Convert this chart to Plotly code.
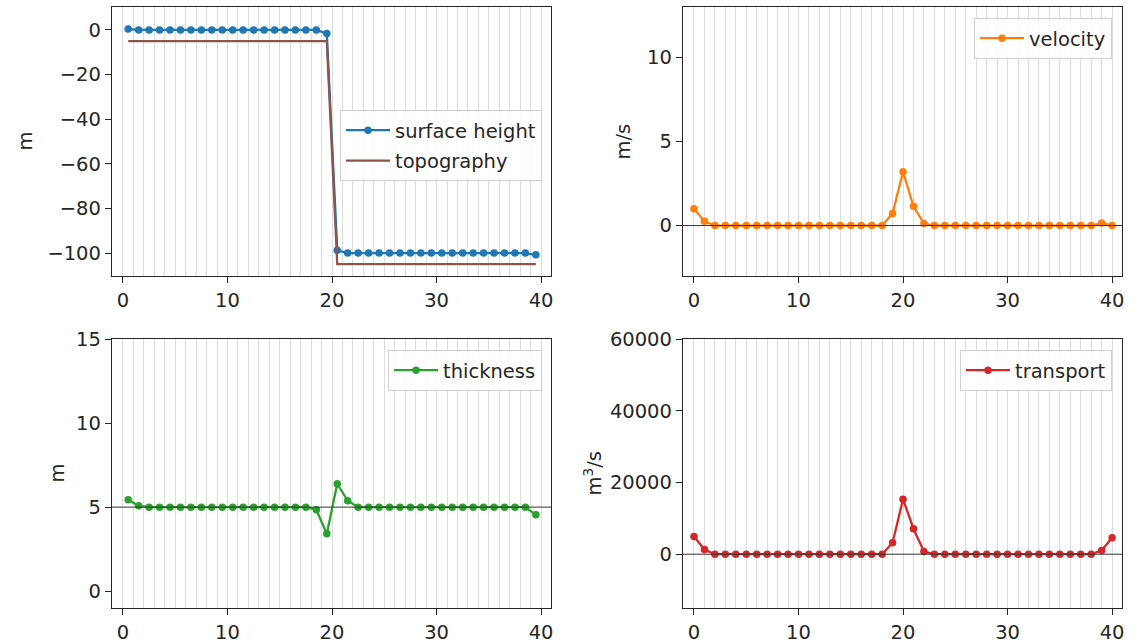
import plotly.graph_objects as go

W, H = 1147, 641

# ---- data ----
x_centers = [i + 0.5 for i in range(40)]
x_edges = list(range(41))

surface_height = [0.4] + [0.0] * 18 + [-1.6] + [-98.8] + [-100.0] * 18 + [-100.8]
topography = [-5.0] * 20 + [-105.0] * 20

velocity = [1.0, 0.25] + [0.0] * 17 + [0.72, 3.2, 1.15, 0.12] + [0.0] * 16 + [0.15, 0.0]

thickness = [5.44, 5.08] + [5.0] * 16 + [4.84, 3.41, 6.39, 5.38] + [5.0] * 17 + [4.54]

transport = [4950, 1300] + [0] * 17 + [3180, 15330, 7100, 750] + [0] * 16 + [1030, 4580]

# ---- layout helpers ----
def xd(a, b):
    return [a / W, b / W]

def yd(top, bot):
    return [1 - bot / H, 1 - top / H]

XD1 = xd(112, 551)
XD2 = xd(683, 1122)
YD1 = yd(7, 276)
YD2 = yd(339, 608)

C_BLUE = "#1f77b4"
C_BROWN = "#8c564b"
C_GREEN = "#2ca02c"
C_RED = "#d62728"
C_ORANGE = "#ff7f0e"
AX = "#262626"
GRID = "#dcdcdc"
FONT = "DejaVu Sans"
FS = 19.5

fig = go.Figure()

def line_trace(x, y, name, color, xa, ya, legend, markers=True):
    return go.Scatter(
        x=x, y=y, name=name, xaxis=xa, yaxis=ya, legend=legend,
        mode="lines+markers" if markers else "lines",
        line=dict(color=color, width=2.3),
        marker=dict(color=color, size=7.5),
        legendgroup=name,
    )

fig.add_trace(line_trace(x_centers, surface_height, "surface height", C_BLUE, "x", "y", "legend"))
fig.add_trace(line_trace(x_centers, topography, "topography", C_BROWN, "x", "y", "legend", markers=False))
fig.add_trace(line_trace(x_edges, velocity, "velocity", C_ORANGE, "x2", "y2", "legend2"))
fig.add_trace(line_trace(x_centers, thickness, "thickness", C_GREEN, "x3", "y3", "legend3"))
fig.add_trace(line_trace(x_edges, transport, "transport", C_RED, "x4", "y4", "legend4"))

def xaxis(domain, anchor):
    return dict(
        domain=domain, anchor=anchor, range=[-1.05, 40.95], automargin=False,
        tickvals=[0, 10, 20, 30, 40], ticks="outside", ticklen=6, tickwidth=1.2,
        tickcolor=AX, showline=True, linecolor=AX, linewidth=1.3, mirror=True,
        showgrid=True, gridcolor=GRID, gridwidth=1, zeroline=False,
        minor=dict(dtick=1, tick0=0, showgrid=True, gridcolor=GRID, gridwidth=1, ticks=""),
        tickfont=dict(family=FONT, size=FS, color=AX),
    )

def yaxis(domain, anchor, rng, tickvals):
    return dict(
        domain=domain, anchor=anchor, range=rng, tickvals=tickvals, automargin=False,
        ticks="outside", ticklen=6, tickwidth=1.2, tickcolor=AX,
        showline=True, linecolor=AX, linewidth=1.3, mirror=True,
        showgrid=False, zeroline=False, tickformat="d",
        tickfont=dict(family=FONT, size=FS, color=AX),
    )

def legend(x_right, y_top):
    return dict(
        x=x_right / W, y=1 - y_top / H, xanchor="right", yanchor="top",
        xref="paper", yref="paper",
        bgcolor="rgba(255,255,255,0.85)", bordercolor="#d0d0d0", borderwidth=1,
        font=dict(family=FONT, size=FS, color=AX),
        tracegroupgap=2, traceorder="grouped", itemwidth=44,
    )

fig.update_layout(
    width=W, height=H,
    margin=dict(l=0, r=0, t=0, b=0, autoexpand=False),
    plot_bgcolor="white", paper_bgcolor="white",
    font=dict(family=FONT, size=FS, color=AX),
    xaxis=xaxis(XD1, "y"),
    yaxis=yaxis(YD1, "x", [-110.3, 10.3], [-100, -80, -60, -40, -20, 0]),
    xaxis2=xaxis(XD2, "y2"),
    yaxis2=yaxis(YD1, "x2", [-3.0, 13.0], [0, 5, 10]),
    xaxis3=xaxis(XD1, "y3"),
    yaxis3=yaxis(YD2, "x3", [-1.0, 15.0], [0, 5, 10, 15]),
    xaxis4=xaxis(XD2, "y4"),
    yaxis4=yaxis(YD2, "x4", [-15000, 60000], [0, 20000, 40000, 60000]),
    legend=legend(542, 110),
    legend2=legend(1112, 18),
    legend3=legend(542, 350),
    legend4=legend(1112, 350),
    showlegend=True,
)

# reference lines
for xa, ya, yv in [("x2", "y2", 0), ("x3", "y3", 5), ("x4", "y4", 0)]:
    fig.add_shape(type="line", xref=f"{xa} domain", yref=ya, x0=0, x1=1, y0=yv, y1=yv,
                  line=dict(color="#333333", width=1), layer="above")

# y-axis labels
for text, xp, yc in [("m", 25, 141.5), ("m/s", 623, 141.5), ("m", 57, 473.5), ("m<sup>3</sup>/s", 592, 473.5)]:
    fig.add_annotation(text=text, x=xp / W, y=1 - yc / H, xref="paper", yref="paper",
                       showarrow=False, textangle=-90, xanchor="center", yanchor="middle",
                       font=dict(family=FONT, size=FS, color=AX))

fig.write_html(
    "out.html",
    config={"displayModeBar": False},
    post_script="document.body.style.margin='0';document.body.style.overflow='hidden';",
)
